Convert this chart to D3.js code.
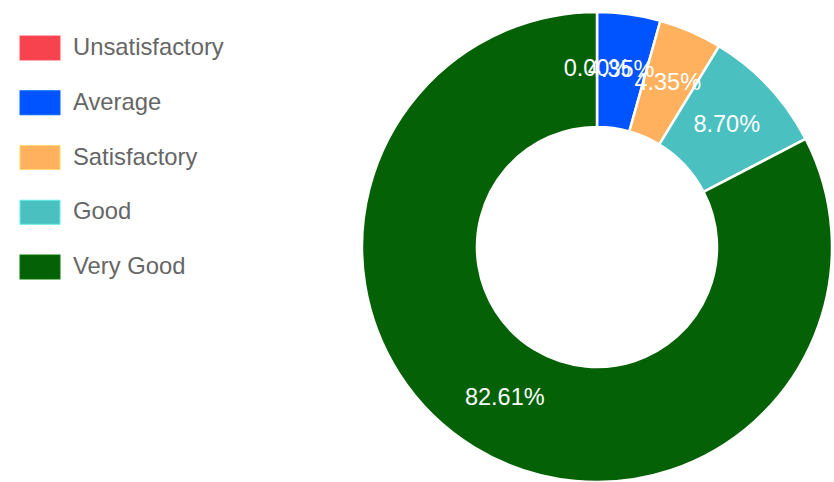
<!DOCTYPE html>
<html><head><meta charset="utf-8">
<script src="https://cdn.jsdelivr.net/npm/d3@7"></script>
<style>html,body{margin:0;padding:0;background:#fff;}svg{display:block;}</style>
</head><body>
<svg id="chart" width="834" height="482"></svg>
<script>
const categories = ["Unsatisfactory", "Average", "Satisfactory", "Good", "Very Good"];
const values = [0, 1, 1, 2, 19];
const colors = ["#f7434d", "#0054ff", "#ffb15e", "#4bc0c0", "#056105"];

const svg = d3.select("#chart");
const cx = 597, cy = 247, rOuter = 235, rInner = 120;
const total = d3.sum(values);

const pie = d3.pie().sort(null).value(d => d);
const arcs = pie(values);
const arc = d3.arc().innerRadius(rInner).outerRadius(rOuter);

const g = svg.append("g").attr("transform", `translate(${cx},${cy})`);
g.selectAll("path.slice").data(arcs).join("path")
  .attr("class", "slice")
  .attr("d", arc)
  .attr("fill", (d, i) => colors[i])
  .attr("stroke", "#fff")
  .attr("stroke-width", 2.5)
  .attr("stroke-linejoin", "round");

g.selectAll("text.lbl").data(arcs).join("text")
  .attr("class", "lbl")
  .attr("transform", d => { const c = arc.centroid(d); return `translate(${c[0]},${c[1] - 2})`; })
  .attr("text-anchor", "middle")
  .attr("dominant-baseline", "central")
  .attr("font-family", "'Liberation Sans', Arial, sans-serif")
  .attr("font-size", 23.5)
  .attr("fill", "#fff")
  .text(d => (d.data / total * 100).toFixed(2) + "%");

// legend
const legend = svg.append("g");
const rowY = d3.scaleLinear().domain([0, 4]).range([36, 255]);
const items = legend.selectAll("g").data(categories).join("g")
  .attr("transform", (d, i) => `translate(20,${rowY(i)})`);
items.append("rect")
  .attr("width", 40).attr("height", 24)
  .attr("fill", (d, i) => colors[i])
  .attr("stroke", (d, i) => d3.color(colors[i]).brighter(0.6))
  .attr("stroke-width", 1);
items.append("text")
  .attr("x", 53).attr("y", 10.5)
  .attr("dominant-baseline", "central")
  .attr("font-family", "'Liberation Sans', Arial, sans-serif")
  .attr("font-size", 23.8)
  .attr("fill", "#666")
  .text(d => d);
</script>
</body></html>
